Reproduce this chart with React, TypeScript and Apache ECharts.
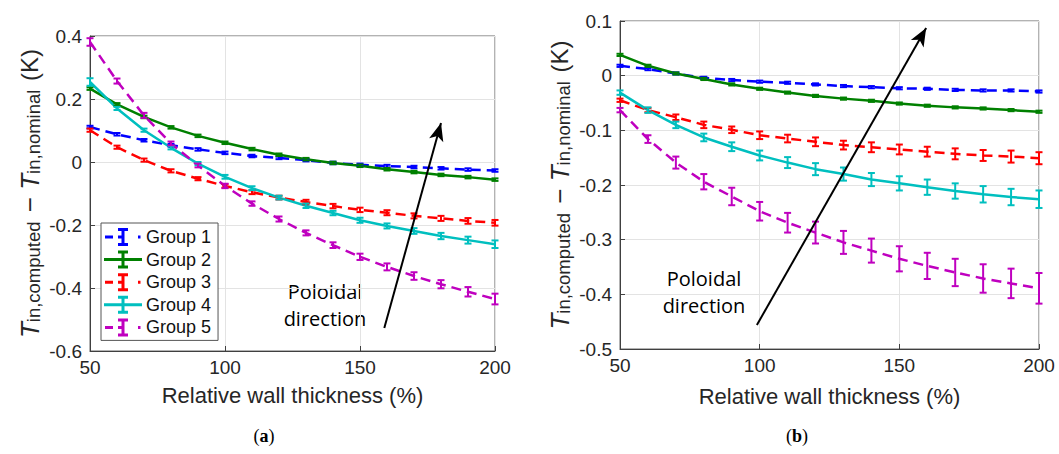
import React, { useEffect, useRef } from "react";
import * as echarts from "echarts";

const thickness = [50, 60, 70, 80, 90, 100, 110, 120, 130, 140, 150, 160, 170, 180, 190, 200];
const groupNames = ["Group 1", "Group 2", "Group 3", "Group 4", "Group 5"];
const colors = ["#0000ff", "#008000", "#ff0000", "#00bfbf", "#bf00bf"];
const dashed = [true, false, true, false, true];

// (a)
const a1 = [0.111, 0.088, 0.069, 0.053, 0.040, 0.029, 0.019, 0.013, 0.006, -0.003, -0.009, -0.013, -0.016, -0.020, -0.024, -0.027];
const a2 = [0.233, 0.183, 0.143, 0.110, 0.083, 0.061, 0.041, 0.023, 0.009, -0.003, -0.012, -0.023, -0.032, -0.041, -0.048, -0.056];
const a3 = [0.101, 0.047, 0.006, -0.028, -0.053, -0.076, -0.096, -0.113, -0.127, -0.140, -0.152, -0.161, -0.171, -0.179, -0.187, -0.193];
const a4 = [0.254, 0.170, 0.101, 0.045, -0.005, -0.047, -0.083, -0.113, -0.139, -0.162, -0.185, -0.203, -0.219, -0.235, -0.248, -0.261];
const a5 = [0.381, 0.257, 0.148, 0.059, -0.011, -0.076, -0.132, -0.181, -0.225, -0.264, -0.301, -0.333, -0.362, -0.388, -0.412, -0.435];
const ae1 = [0.004, 0.004, 0.004, 0.004, 0.004, 0.004, 0.004, 0.004, 0.004, 0.004, 0.004, 0.004, 0.004, 0.004, 0.004, 0.004];
const ae2 = [0.004, 0.004, 0.004, 0.004, 0.004, 0.004, 0.004, 0.004, 0.004, 0.004, 0.004, 0.004, 0.004, 0.004, 0.004, 0.004];
const ae3 = [0.005, 0.005, 0.005, 0.005, 0.005, 0.006, 0.006, 0.006, 0.007, 0.007, 0.007, 0.008, 0.008, 0.008, 0.009, 0.009];
const ae4 = [0.012, 0.005, 0.005, 0.005, 0.005, 0.006, 0.006, 0.006, 0.007, 0.007, 0.008, 0.008, 0.009, 0.010, 0.011, 0.012];
const ae5 = [0.012, 0.008, 0.008, 0.006, 0.006, 0.007, 0.007, 0.008, 0.008, 0.009, 0.010, 0.011, 0.012, 0.013, 0.015, 0.017];

// (b)
const b1 = [0.018, 0.012, 0.004, -0.004, -0.008, -0.011, -0.013, -0.016, -0.019, -0.021, -0.023, -0.024, -0.026, -0.027, -0.027, -0.029];
const b2 = [0.038, 0.018, 0.004, -0.006, -0.016, -0.024, -0.031, -0.037, -0.042, -0.046, -0.051, -0.055, -0.058, -0.060, -0.063, -0.066];
const b3 = [-0.045, -0.063, -0.076, -0.090, -0.099, -0.109, -0.115, -0.121, -0.127, -0.131, -0.135, -0.139, -0.143, -0.146, -0.148, -0.151];
const b4 = [-0.031, -0.063, -0.090, -0.113, -0.130, -0.146, -0.159, -0.171, -0.180, -0.190, -0.197, -0.204, -0.211, -0.217, -0.222, -0.226];
const b5 = [-0.063, -0.116, -0.159, -0.194, -0.221, -0.248, -0.269, -0.287, -0.305, -0.320, -0.335, -0.348, -0.360, -0.371, -0.380, -0.389];
const be1 = [0.002, 0.002, 0.002, 0.002, 0.002, 0.002, 0.002, 0.002, 0.002, 0.002, 0.002, 0.002, 0.002, 0.002, 0.002, 0.002];
const be2 = [0.002, 0.002, 0.002, 0.002, 0.002, 0.002, 0.002, 0.002, 0.002, 0.002, 0.002, 0.002, 0.002, 0.002, 0.002, 0.002];
const be3 = [0.003, 0.004, 0.005, 0.006, 0.006, 0.007, 0.007, 0.008, 0.008, 0.009, 0.009, 0.009, 0.010, 0.010, 0.011, 0.011];
const be4 = [0.004, 0.005, 0.006, 0.007, 0.008, 0.009, 0.010, 0.011, 0.012, 0.012, 0.013, 0.014, 0.014, 0.015, 0.015, 0.016];
const be5 = [0.004, 0.007, 0.011, 0.014, 0.016, 0.017, 0.018, 0.020, 0.021, 0.022, 0.023, 0.024, 0.025, 0.026, 0.027, 0.028];

const xTicks = { min: 50, max: 200, interval: 50 };
const yTicksA = { min: -0.6, max: 0.4, interval: 0.2 };
const yTicksB = { min: -0.5, max: 0.1, interval: 0.1 };

// arrow annotations (data coordinates)
const arrowA = [[159, -0.527], [180, 0.124]];
const arrowB = [[99, -0.456], [159.6, 0.087]];

const seriesA = [a1, a2, a3, a4, a5];
const errA = [ae1, ae2, ae3, ae4, ae5];
const seriesB = [b1, b2, b3, b4, b5];
const errB = [be1, be2, be3, be4, be5];

const FONT = "'Liberation Sans', Arial, sans-serif";
const TXT = "#262626";

const solidIcon = "path://M0 7.5h38v3h-38z M17.5 0h3v18h-3z M14 0h10v3h-10z M14 15h10v3h-10z";
const dashIcon = "path://M0 0h0.01v0.01h-0.01z M1 7.5h8v3h-8z M17.5 0h3v18h-3z M14 0h10v3h-10z M14 15h10v3h-10z M14 7.5h4v3h-4z M34 7.5h2.5v3h-2.5z M37.99 17.99h0.01v0.01h-0.01z";

function errRender(params: any, api: any) {
  const x = api.value(0);
  const lo = api.coord([x, api.value(1)]);
  const hi = api.coord([x, api.value(2)]);
  const color = api.visual("color");
  const w = 3.5;
  const style = { stroke: color, lineWidth: 2 };
  return {
    type: "group",
    children: [
      { type: "line", shape: { x1: lo[0], y1: lo[1], x2: hi[0], y2: hi[1] }, style },
      { type: "line", shape: { x1: lo[0] - w, y1: lo[1], x2: lo[0] + w, y2: lo[1] }, style },
      { type: "line", shape: { x1: hi[0] - w, y1: hi[1], x2: hi[0] + w, y2: hi[1] }, style },
    ],
  };
}

const yNameText = "{T|T}{sub|in,computed}{m| − }{T|T}{sub|in,nominal}{k| (K)}";
const yRich = {
  T: { fontStyle: "italic", fontSize: 26, fontFamily: FONT, color: TXT, lineHeight: 26, verticalAlign: "top" },
  sub: { fontSize: 18.5, fontFamily: FONT, color: TXT, lineHeight: 18, padding: [15, 2, 0, 0], verticalAlign: "bottom" },
  m: { fontSize: 26, fontFamily: FONT, color: TXT, lineHeight: 26, verticalAlign: "top" },
  k: { fontSize: 24, fontFamily: FONT, color: TXT, lineHeight: 26, verticalAlign: "top" },
};

function buildAxes(gridIndex: number, yt: any, xGap: number, yGap: number) {
  const x = {
    type: "value",
    gridIndex,
    ...xTicks,
    name: "Relative wall thickness (%)",
    nameLocation: "middle",
    nameGap: xGap,
    nameTextStyle: { fontSize: 22, fontFamily: FONT, color: TXT },
    axisLine: { show: true, onZero: false, lineStyle: { color: "#404040", width: 1 } },
    axisTick: { show: true, inside: true, length: 5, lineStyle: { color: "#404040" } },
    axisLabel: { fontSize: 19, fontFamily: FONT, color: TXT, margin: 7 },
    splitLine: { show: true, lineStyle: { color: "#e3e3e3", width: 1 } },
  };
  const y = {
    type: "value",
    gridIndex,
    ...yt,
    name: yNameText,
    nameLocation: "middle",
    nameRotate: 90,
    nameGap: yGap,
    nameTextStyle: { rich: yRich },
    axisLine: { show: true, onZero: false, lineStyle: { color: "#404040", width: 1 } },
    axisTick: { show: true, inside: true, length: 5, lineStyle: { color: "#404040" } },
    axisLabel: { fontSize: 19, fontFamily: FONT, color: TXT, margin: 8 },
    splitLine: { show: true, lineStyle: { color: "#e3e3e3", width: 1 } },
  };
  return { x, y };
}

export default function App() {
  const ref = useRef<HTMLDivElement>(null);
  useEffect(() => {
    if (!ref.current) return;
    const chart = echarts.init(ref.current, null, { renderer: "svg" });
    const axA = buildAxes(0, yTicksA, 33, 47);
    const axB = buildAxes(1, yTicksB, 36, 47);

    const series: any[] = [];
    const mk = (data: number[][], err: number[][], gi: number, prefix: string, arrow: number[][]) => {
      data.forEach((vals, i) => {
        const name = prefix === "a" ? groupNames[i] : groupNames[i] + " (b)";
        series.push({
          type: "line",
          name,
          xAxisIndex: gi,
          yAxisIndex: gi,
          data: thickness.map((t, k) => [t, vals[k]]),
          symbol: "none",
          color: colors[i],
          lineStyle: { width: 2.5, color: colors[i], type: dashed[i] ? [10, 6] : "solid" },
          z: 2,
          ...(i === 0
            ? {
                markLine: {
                  silent: true,
                  symbol: ["none", "arrow"],
                  symbolSize: [11, 18],
                  label: { show: false },
                  lineStyle: { color: "#000", width: 2, type: "solid" },
                  data: [[{ coord: arrow[0] }, { coord: arrow[1] }]],
                },
              }
            : {}),
        });
        series.push({
          type: "custom",
          name: name + " err",
          xAxisIndex: gi,
          yAxisIndex: gi,
          color: colors[i],
          renderItem: errRender,
          data: thickness.map((t, k) => [t, vals[k] - err[i][k], vals[k] + err[i][k]]),
          z: 3,
        });
      });
    };
    mk(seriesA, errA, 0, "a", arrowA);
    mk(seriesB, errB, 1, "b", arrowB);

    const poloidal = (x: number, y: number, t: string) => ({
      type: "text", x, y,
      style: { text: t, fontSize: 20, fontFamily: "'Open Sans', sans-serif", fill: "#000", textAlign: "center", textVerticalAlign: "middle" },
    });
    const caption = (x: number, letter: string) => ({
      type: "text", x, y: 436,
      style: {
        text: "({b|" + letter + "})", fontSize: 18, fontFamily: "'Liberation Serif', serif", fill: "#000", textAlign: "center", textVerticalAlign: "middle",
        rich: { b: { fontWeight: "bold", fontSize: 18, fontFamily: "'Liberation Serif', serif", fill: "#000" } },
      },
    });

    chart.setOption({
      animation: false,
      backgroundColor: "#ffffff",
      grid: [
        { left: 90, top: 36, width: 405, height: 315, show: true, borderColor: "#666", borderWidth: 1, backgroundColor: "transparent" },
        { left: 620, top: 21, width: 419, height: 328, show: true, borderColor: "#666", borderWidth: 1, backgroundColor: "transparent" },
      ],
      xAxis: [axA.x, axB.x],
      yAxis: [axA.y, axB.y],
      legend: {
        left: 101,
        top: 223,
        orient: "vertical",
        itemWidth: 38,
        itemHeight: 18,
        itemGap: 4.6,
        padding: [5, 7, 4, 3],
        borderColor: "#555",
        borderWidth: 1,
        backgroundColor: "#ffffff",
        textStyle: { fontSize: 18, lineHeight: 18, fontFamily: FONT, color: "#111", padding: [0, 0, 0, -1] },
        data: groupNames.map((n, i) => ({ name: n, icon: dashed[i] ? dashIcon : solidIcon })),
      },
      graphic: [
        poloidal(325, 291, "Poloidal"),
        poloidal(325, 318, "direction"),
        poloidal(704, 278, "Poloidal"),
        poloidal(704, 305, "direction"),
        caption(264, "a"),
        caption(797, "b"),
      ],
      series,
    });
    return () => chart.dispose();
  }, []);
  return <div ref={ref} style={{ position: "absolute", left: 0, top: 0, width: 1059, height: 454 }} />;
}
